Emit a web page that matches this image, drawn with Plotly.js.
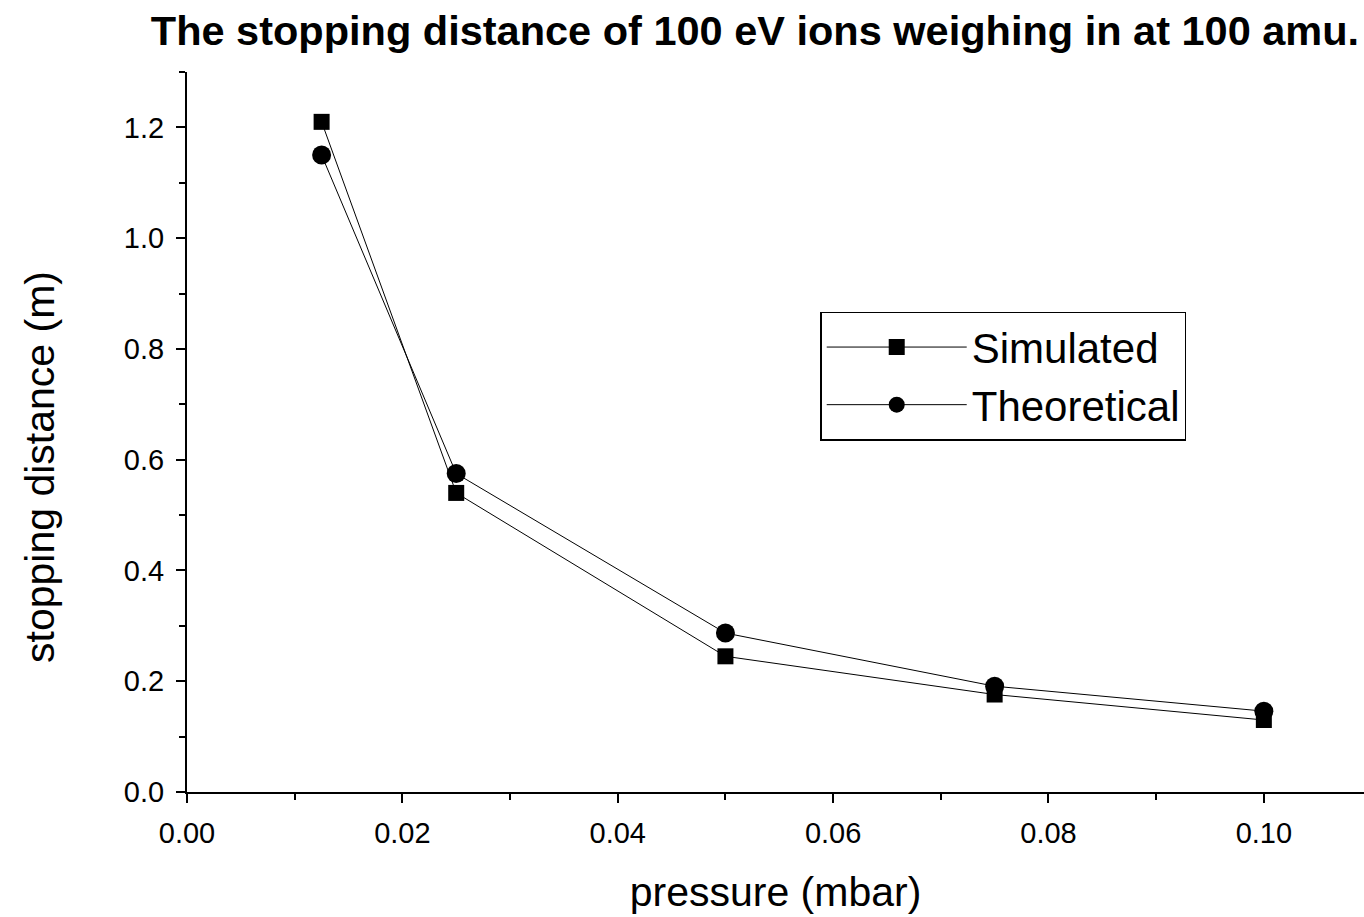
<!DOCTYPE html>
<html>
<head>
<meta charset="utf-8">
<script src="https://cdn.plot.ly/plotly-3.0.1.min.js"></script>
<style>html,body{margin:0;padding:0;background:#fff;}#chart{width:1364px;height:917px;}</style>
</head>
<body>
<div id="chart"></div>
<script>
const pressure = [0.0125, 0.025, 0.05, 0.075, 0.1];
const simulated = [1.21, 0.54, 0.245, 0.176, 0.13];
const theoretical = [1.15, 0.575, 0.287, 0.191, 0.146];
const seriesNames = ["Simulated", "Theoretical"];
const xTitle = "pressure (mbar)";
const yTitle = "stopping distance (m)";
const chartTitle = "The stopping distance of 100 eV ions weighing in at 100 amu.";

const FONT = "Liberation Sans, Arial, sans-serif";

const traces = [
  {x: pressure, y: simulated, name: seriesNames[0], type: "scatter", mode: "lines+markers",
   line: {color: "#000", width: 1}, marker: {symbol: "square", size: 16, color: "#000"}},
  {x: pressure, y: theoretical, name: seriesNames[1], type: "scatter", mode: "lines+markers",
   line: {color: "#000", width: 1}, marker: {symbol: "circle", size: 19, color: "#000"}}
];

const layout = {
  width: 1364, height: 917,
  paper_bgcolor: "#fff", plot_bgcolor: "#fff",
  margin: {l: 187, r: 0, t: 72, b: 125},
  font: {family: FONT, color: "#000"},
  title: {text: chartTitle,
          font: {family: FONT, size: 41.5, weight: "bold", color: "#000"},
          x: 0.5535, xanchor: "center", xref: "container",
          y: 1 - 30/917, yanchor: "middle", yref: "container"},
  xaxis: {
    range: [0, 0.1093], showline: true, linecolor: "#000", linewidth: 2,
    showgrid: false, zeroline: false, ticks: "outside", ticklen: 9, tickwidth: 2, tickcolor: "#000",
    dtick: 0.02, tick0: 0, tickformat: ".2f", tickfont: {family: FONT, size: 29},
    ticklabelstandoff: 5,
    minor: {ticks: "outside", ticklen: 6, tickwidth: 2, tickcolor: "#000", dtick: 0.01, showgrid: false},
    title: {text: xTitle, font: {family: FONT, size: 41}, standoff: 30},
    automargin: false
  },
  yaxis: {
    range: [0, 1.3], showline: true, linecolor: "#000", linewidth: 2,
    showgrid: false, zeroline: false, ticks: "outside", ticklen: 9, tickwidth: 2, tickcolor: "#000",
    dtick: 0.2, tick0: 0, tickformat: ".1f", tickfont: {family: FONT, size: 29},
    ticklabelstandoff: 6,
    minor: {ticks: "outside", ticklen: 6, tickwidth: 2, tickcolor: "#000", dtick: 0.1, showgrid: false},
    automargin: false
  },
  annotations: [
    {text: yTitle, xref: "paper", yref: "paper", x: (40 - 187) / 1177, y: (792 - 467) / 720,
     xanchor: "center", yanchor: "middle", textangle: -90, showarrow: false,
     font: {family: FONT, size: 41, color: "#000"}}
  ],
  showlegend: true,
  legend: {x: 0.538, y: 0.667, xanchor: "left", yanchor: "top",
           bgcolor: "#fff", bordercolor: "#000", borderwidth: 1.5,
           font: {family: FONT, size: 42, color: "#000"}, itemwidth: 140,
           tracegroupgap: 0}
};

Plotly.newPlot("chart", traces, layout, {displayModeBar: false, staticPlot: true});
</script>
</body>
</html>
